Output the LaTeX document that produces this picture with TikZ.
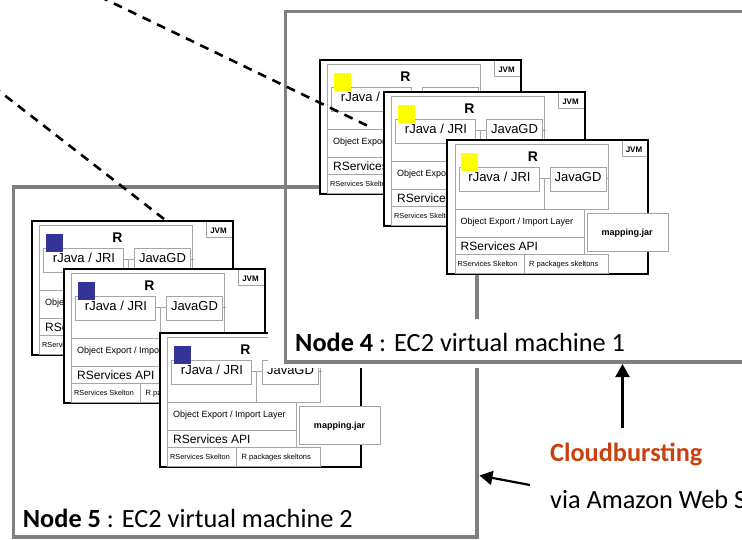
\documentclass[tikz,border=0pt]{standalone}
\usepackage{fontspec}
\setmainfont{Carlito}
\newfontfamily\jvmfont{Liberation Sans}
\usetikzlibrary{arrows.meta}
\definecolor{framegray}{RGB}{128,128,128}
\definecolor{innergray}{RGB}{165,165,165}
\definecolor{sqyellow}{RGB}{255,255,0}
\definecolor{sqblue}{RGB}{51,51,153}
\definecolor{burst}{RGB}{200,65,15}
\newcommand{\jf}[1]{\jvmfont\fontsize{#1}{#1}\selectfont}
\tikzset{
  vmframe/.style={draw=framegray, line width=3.6pt},
  jvmouter/.style={draw=black, fill=white, line width=2pt},
  jvminner/.style={draw=innergray, line width=0.9pt},
  jtxt/.style={inner sep=0pt, anchor=base},
  jtxtw/.style={inner sep=0pt, anchor=base west},
  dashline/.style={draw=black, line width=2.6pt, dash pattern=on 9pt off 7pt},
  arrowline/.style={draw=black, line width=2.2pt, -{Triangle[length=13pt,width=14pt]}},
  lbl/.style={inner sep=0pt, anchor=base west, font=\fontsize{26.3}{30}\selectfont},
}
\newcommand{\jvmstack}[4]{%
\begin{scope}[shift={(#2,#3)}]
  \draw[jvmouter] (0,0) rectangle (201,134);
  \draw[jvminner] (175,1) |- (200,16);
  \node[jtxt, font={\jf{8}\bfseries}] (#1-jvm) at (187,12) {JVM};
  \draw[jvminner] (8,4) rectangle (161,69);
  \node[jtxt, font={\jf{14}\bfseries}] (#1-r) at (86,21.7) {R};
  \draw[jvminner] (12,27) rectangle (92,51);
  \node[jtxt, font={\jf{13}}] (#1-rjava) at (52.5,41) {rJava / JRI};
  \draw[jvminner] (103,27) rectangle (159,51);
  \node[jtxt, font={\jf{13}}] (#1-jgd) at (131,41) {JavaGD};
  \draw[jvminner] (92,38) -- (103,38) (97,38) -- (97,69) (159,38) -- (162,38);
  \fill[#4] (14,13) rectangle (31,30.5);
  \draw[jvminner] (8,69) rectangle (137,97);
  \node[jtxtw, font={\jf{9}}] (#1-oe) at (13.5,84) {Object Export / Import Layer};
  \draw[jvminner] (8,97) rectangle (137,114);
  \node[jtxtw, font={\jf{12}}] (#1-api) at (13.5,110) {RServices API};
  \draw[jvminner] (8,114) rectangle (77,133);
  \draw[jvminner] (77,114) rectangle (161,133);
  \node[jtxtw, font={\jf{7.3}}] (#1-sk) at (10.5,126) {RServices Skelton};
  \node[jtxtw, font={\jf{7.5}}] (#1-pk) at (82,126) {R packages skeltons};
  \draw[jvminner, fill=white] (140,73) rectangle (221,111);
  \node[jtxt, font={\jf{9}\bfseries}] (#1-map) at (180,95.5) {mapping.jar};
\end{scope}}
\begin{document}
\begin{tikzpicture}[x=1pt,y=-1pt]
\useasboundingbox (0,0) rectangle (742,539);
\clip (0,0) rectangle (742,539);
% Node 5 frame
\draw[vmframe] (13.5,187) rectangle (477,537);
% Node 4 stacks
\jvmstack{n4a}{319.5}{60}{sqyellow}
\jvmstack{n4b}{383.5}{92}{sqyellow}
\jvmstack{n4c}{447}{140}{sqyellow}
% Node 5 stacks
\jvmstack{n5a}{31.5}{221}{sqblue}
\jvmstack{n5b}{63.5}{269}{sqblue}
\jvmstack{n5c}{159.5}{333}{sqblue}
% Node 4 label backing and frame
\fill[white] (268,319) rectangle (780,368);
\draw[vmframe] (285.5,11.3) rectangle (780,362);
% labels
\node[lbl] (n4label) at (295,351.5) {\textbf{Node 4} : EC2 virtual machine 1};
\node[lbl] (n5label) at (22.7,527) {\textbf{Node 5} : EC2 virtual machine 2};
\node[lbl, text=burst, font=\fontsize{26.3}{30}\selectfont\bfseries] (burstlbl) at (550,461.5) {Cloudbursting};
\node[lbl] (vialbl) at (550,508) {via Amazon Web S};
% arrows
\coordinate (a1s) at (622.5,428);
\coordinate (a1e) at (622.5,364);
\draw[arrowline] (a1s) -- (a1e);
\coordinate (a2s) at (530,485);
\coordinate (a2e) at (479.5,475.5);
\draw[arrowline] (a2s) -- (a2e);
% dashed lines
\coordinate (d1s) at (85,-10.5);
\coordinate (d1e) at (368,126);
\draw[dashline] (d1s) -- (d1e);
\coordinate (d2s) at (-20,76.2);
\coordinate (d2e) at (164,219);
\draw[dashline] (d2s) -- (d2e);
\end{tikzpicture}
\end{document}
